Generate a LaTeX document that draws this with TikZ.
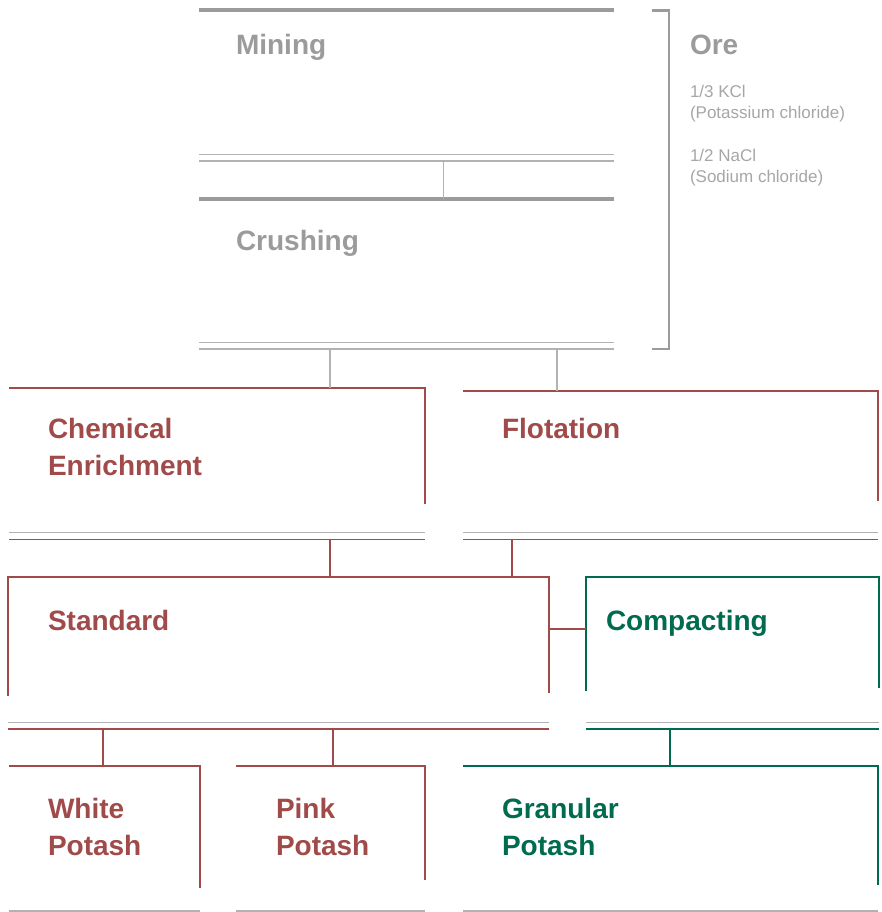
\documentclass[tikz,border=0pt]{standalone}
\usepackage{fontspec}
\setmainfont{Liberation Sans}
\usetikzlibrary{calc}
\definecolor{cred}{HTML}{A04B49}
\definecolor{cgreen}{HTML}{006B4F}
\definecolor{cgray}{HTML}{9B9B9D}
\definecolor{lgray}{HTML}{B2B2B2}
\definecolor{tgray}{HTML}{A6A6A6}
\tikzset{
  area/.style={inner sep=0pt, outer sep=0pt, anchor=north west},
  ttl/.style={inner sep=0pt, outer sep=0pt, anchor=north west, align=left,
    font=\bfseries\fontsize{28}{37}\selectfont},
  small/.style={inner sep=0pt, outer sep=0pt, anchor=north west, align=left,
    text=tgray, font=\fontsize{17}{21}\selectfont},
  thickgray/.style={draw=cgray, line width=4.5pt},
  thingray/.style={draw=lgray, line width=1.4pt},
  redbox/.style={draw=cred, line width=2.6pt},
  greenbox/.style={draw=cgreen, line width=2.6pt},
  redthin/.style={draw=cred, line width=1.4pt},
  greenthin/.style={draw=cgreen, line width=1.4pt},
  grayconn/.style={draw=lgray, line width=1.4pt},
  redconn/.style={draw=cred, line width=2pt},
  greenconn/.style={draw=cgreen, line width=1.4pt},
}
\begin{document}
\begin{tikzpicture}[x=1pt,y=-1pt]
\useasboundingbox (0,0) rectangle (882,912);

% areas
\node[area, minimum width=415pt, minimum height=151pt] (mining) at (199,10) {};
\node[area, minimum width=415pt, minimum height=150pt] (crush) at (199,199) {};
\node[area, minimum width=416pt, minimum height=151.5pt] (chem) at (9,388) {};
\node[area, minimum width=415pt, minimum height=148.5pt] (flot) at (463,391) {};
\node[area, minimum width=541pt, minimum height=152pt] (std) at (8,577) {};
\node[area, minimum width=293pt, minimum height=152pt] (comp) at (586,577) {};
\node[area, minimum width=191pt, minimum height=145pt] (white) at (9,766) {};
\node[area, minimum width=189pt, minimum height=145pt] (pink) at (236,766) {};
\node[area, minimum width=415pt, minimum height=145pt] (gran) at (463,766) {};

% titles
\node[ttl, text=cgray] (miningt) at (236,34.7) {Mining};
\node[ttl, text=cgray] (crusht) at (236,230.7) {Crushing};
\node[ttl, text=cred] (chemt) at (48,418.7) {Chemical\\Enrichment};
\node[ttl, text=cred] (flott) at (502,418.2) {Flotation};
\node[ttl, text=cred] (stdt) at (48,610.7) {Standard};
\node[ttl, text=cgreen] (compt) at (606,610.7) {Compacting};
\node[ttl, text=cred] (whitet) at (48,798.2) {White\\Potash};
\node[ttl, text=cred] (pinkt) at (276,798.2) {Pink\\Potash};
\node[ttl, text=cgreen] (grant) at (502,798.2) {Granular\\Potash};
\node[ttl, text=cgray] (oret) at (690,34.7) {Ore};
\node[small] (kcl) at (690,84.8) {1/3 KCl\\(Potassium chloride)};
\node[small] (nacl) at (690,149.3) {1/2 NaCl\\(Sodium chloride)};

% mining
\draw[thickgray] (mining.north west) -- (mining.north east);
\draw[thingray] ($(mining.south west)+(0,-6.5)$) -- ($(mining.south east)+(0,-6.5)$);
\draw[thingray] (mining.south west) -- (mining.south east);
% crushing
\draw[thickgray] (crush.north west) -- (crush.north east);
\draw[thingray] ($(crush.south west)+(0,-6.5)$) -- ($(crush.south east)+(0,-6.5)$);
\draw[thingray] (crush.south west) -- (crush.south east);
% ore bracket
\coordinate (brt) at (652,10.5);
\coordinate (brb) at (652,349);
\draw[draw=cgray, line width=2.4pt] (brt) -- ++(17,0) -- (669,349) -- (brb);

% chemical enrichment
\draw[redbox] (chem.north west) -- (chem.north east) -- ($(chem.north east)+(0,115.5)$);
\draw[thingray] ($(chem.south west)+(0,-7.3)$) -- ($(chem.south east)+(0,-7.3)$);
\draw[redthin] (chem.south west) -- (chem.south east);
% flotation
\draw[redbox] (flot.north west) -- (flot.north east) -- ($(flot.north east)+(0,110)$);
\draw[thingray] ($(flot.south west)+(0,-7.3)$) -- ($(flot.south east)+(0,-7.3)$);
\draw[redthin] (flot.south west) -- (flot.south east);
% standard
\draw[redbox] ($(std.north west)+(0,119)$) -- (std.north west) -- (std.north east) -- ($(std.north east)+(0,116)$);
\draw[thingray] ($(std.south west)+(0,-6.3)$) -- ($(std.south east)+(0,-6.3)$);
\draw[redthin] (std.south west) -- (std.south east);
% compacting
\draw[greenbox] ($(comp.north west)+(0,113.5)$) -- (comp.north west) -- (comp.north east) -- ($(comp.north east)+(0,110.5)$);
\draw[thingray] ($(comp.south west)+(0,-6.3)$) -- ($(comp.south east)+(0,-6.3)$);
\draw[greenthin] (comp.south west) -- (comp.south east);
% white potash
\draw[redbox] (white.north west) -- (white.north east) -- ($(white.north east)+(0,122)$);
\draw[thingray] (white.south west) -- (white.south east);
% pink potash
\draw[redbox] (pink.north west) -- (pink.north east) -- ($(pink.north east)+(0,114)$);
\draw[thingray] (pink.south west) -- (pink.south east);
% granular potash
\draw[greenbox] (gran.north west) -- (gran.north east) -- ($(gran.north east)+(0,119)$);
\draw[thingray] (gran.south west) -- (gran.south east);

% connectors
\coordinate (x1) at (443.5,0);
\coordinate (x2) at (330,0);
\coordinate (x3) at (557,0);
\coordinate (x4) at (330,0);
\coordinate (x5) at (512,0);
\coordinate (x6) at (103,0);
\coordinate (x7) at (333,0);
\coordinate (x8) at (670,0);
\draw[grayconn] (mining.south -| x1) -- (crush.north -| x1);
\draw[grayconn] (crush.south -| x2) -- (chem.north -| x2);
\draw[grayconn] (crush.south -| x3) -- (flot.north -| x3);
\draw[redconn] (chem.south -| x4) -- (std.north -| x4);
\draw[redconn] (flot.south -| x5) -- (std.north -| x5);
\draw[redconn] (std.south -| x6) -- (white.north -| x6);
\draw[redconn] (std.south -| x7) -- (pink.north -| x7);
\draw[greenconn] (comp.south -| x8) -- (gran.north -| x8);
\coordinate (hy) at (0,629.3);
\draw[redconn] (std.east |- hy) -- (comp.west |- hy);
\end{tikzpicture}
\end{document}
